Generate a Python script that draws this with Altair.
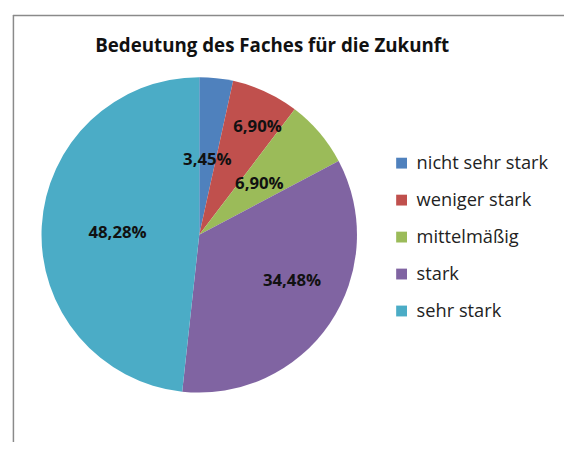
import altair as alt
import pandas as pd

categories = ["nicht sehr stark", "weniger stark", "mittelmäßig", "stark", "sehr stark"]
values = [3.45, 6.90, 6.90, 34.48, 48.28]
labels = ["3,45%", "6,90%", "6,90%", "34,48%", "48,28%"]
colors = ["#4F81BD", "#C0504D", "#9BBB59", "#8064A2", "#4BACC6"]
title_text = "Bedeutung des Faches für die Zukunft"

df = pd.DataFrame({"cat": categories, "val": values, "lab": labels, "order": list(range(len(categories)))})

FONT = "Open Sans"
CX, CY = 194, 227

# label placement styling per slice (radius, dx, dy), like the spreadsheet's "best fit"
label_style = {
    "nicht sehr stark": (76, 0, 0),
    "weniger stark": (124, 7, 3),
    "mittelmäßig": (80, 0, 0),
    "stark": (104, 8, -12),
    "sehr stark": (82, -1, 3),
}

base = alt.Chart(df).encode(
    theta=alt.Theta("val:Q", stack=True),
    order=alt.Order("order:Q"),
)

pie = base.mark_arc(radius=160, x=CX, y=CY).encode(
    color=alt.Color(
        "cat:N",
        sort=categories,
        scale=alt.Scale(domain=categories, range=colors),
        legend=alt.Legend(
            title=None,
            orient="none",
            legendX=390,
            legendY=145,
            symbolType="square",
            symbolSize=121,
            symbolStrokeWidth=0,
            labelFont=FONT,
            labelFontSize=18.5,
            labelColor="#222222",
            rowPadding=18.5,
            labelOffset=6,
            labelLimit=300,
        ),
    )
)

texts = []
for cat in categories:
    r, dx, dy = label_style[cat]
    texts.append(
        base.mark_text(
            radius=r, x=CX, y=CY, dx=dx, dy=dy, font=FONT, fontSize=17, fontWeight="bold", color="#111111"
        ).encode(text="lab:N", opacity=alt.condition(alt.datum.cat == cat, alt.value(1), alt.value(0)))
    )

title = alt.Chart(pd.DataFrame({"t": [title_text]})).mark_text(
    font=FONT, fontSize=19, fontWeight="bold", color="#111111", align="center", baseline="alphabetic"
).encode(text="t:N", x=alt.value(268), y=alt.value(42))

frame_top = alt.Chart(pd.DataFrame({"a": [0]})).mark_rule(color="#8a8a8a", strokeWidth=1.5).encode(
    x=alt.value(5), x2=alt.value(600), y=alt.value(4.5)
)
frame_left = alt.Chart(pd.DataFrame({"a": [0]})).mark_rule(color="#8a8a8a", strokeWidth=1.5).encode(
    x=alt.value(5.5), y=alt.value(4), y2=alt.value(600)
)

chart = alt.layer(frame_top, frame_left, pie, *texts, title).properties(
    width=564, height=434, padding=0, autosize=alt.AutoSizeParams(type="none")
).configure_view(stroke=None)

chart.save("out.html", embed_options={"renderer": "svg", "actions": False})
